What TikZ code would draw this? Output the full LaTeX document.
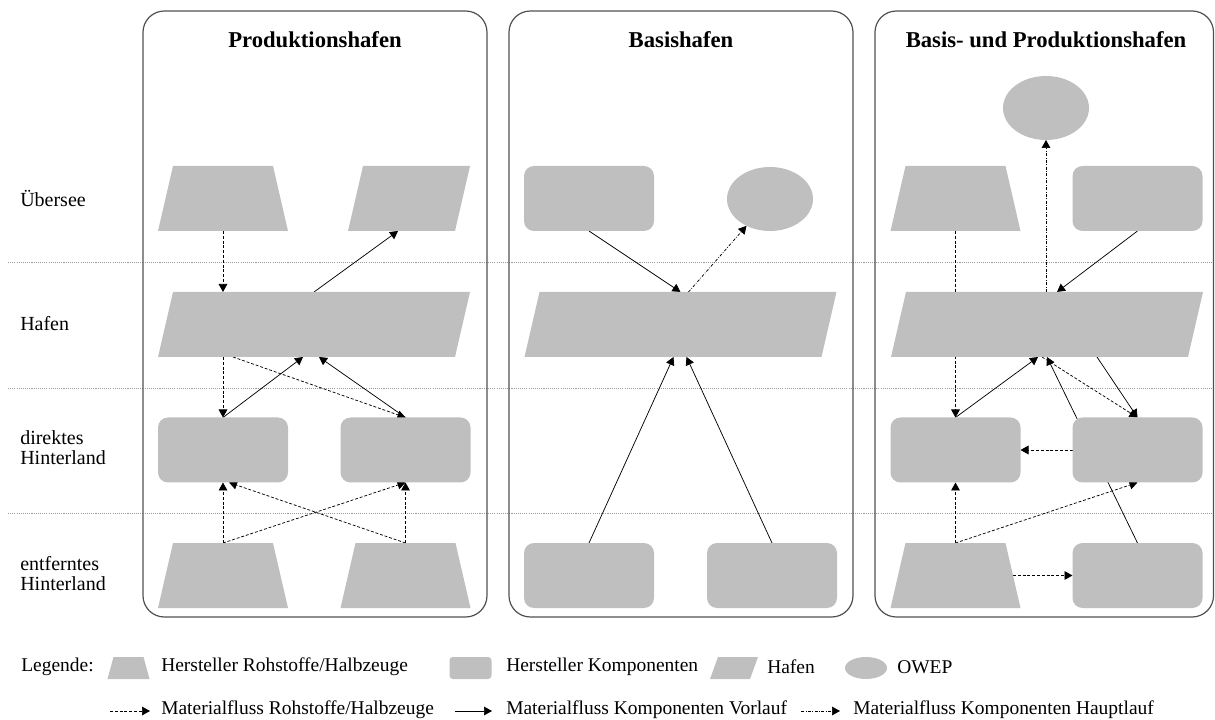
\documentclass[tikz,border=0pt]{standalone}
\usepackage{fontspec}
\setmainfont{Liberation Serif}
\usetikzlibrary{shapes.geometric,arrows.meta,calc}
\definecolor{shapegray}{HTML}{BFBFBF}
\definecolor{framegray}{HTML}{505050}
\definecolor{gridgray}{HTML}{9A9A9A}
\pgfdeclarelayer{bg}
\pgfsetlayers{bg,main}
% grey fills of the slanted shapes, drawn over the (invisible) anchor node
\newcommand\rawfill[2][11.25pt]{\fill[shapegray] ([xshift=#1]#2.north west)
  -- ([xshift=-#1]#2.north east) -- (#2.south east) -- (#2.south west) -- cycle;}
\newcommand\portfill[2][11.25pt]{\fill[shapegray] ([xshift=#1]#2.north west)
  -- (#2.north east) -- ([xshift=-#1]#2.south east) -- (#2.south west) -- cycle;}
\tikzset{
  raw/.style={rectangle, minimum width=97.5pt, minimum height=48.75pt,
    inner sep=0pt, outer sep=0pt},
  port/.style={rectangle, minimum height=48.75pt, inner sep=0pt, outer sep=0pt},
  comp/.style={rectangle, rounded corners=7.5pt, minimum width=97.5pt,
    minimum height=48.75pt, inner sep=0pt, outer sep=0pt, fill=shapegray},
  owep/.style={ellipse, minimum width=64.5pt, minimum height=48pt,
    inner sep=0pt, outer sep=0pt, fill=shapegray},
  panel/.style={draw=framegray, line width=0.9pt, rounded corners=16pt,
    inner sep=0pt, minimum height=454.5pt},
  title/.style={font=\bfseries\fontsize{17}{20}\selectfont},
  rowlabel/.style={anchor=west, align=left, inner sep=0pt,
    font=\fontsize{15}{15}\selectfont},
  legtext/.style={anchor=west, inner sep=0pt, font=\fontsize{14.6}{16}\selectfont},
  tip/.style={-{Triangle[length=6pt,width=6.5pt]}},
  raw flow/.style={tip, line width=0.55pt, dash pattern=on 2.2pt off 1.4pt},
  pre flow/.style={tip, line width=0.55pt},
  main flow/.style={tip, line width=0.55pt,
    dash pattern=on 2.2pt off 1.2pt on 0.5pt off 1.2pt},
  level/.style={draw=gridgray, line width=0.6pt, dash pattern=on 0.8pt off 0.8pt},
}
\begin{document}
\begin{tikzpicture}[x=0.75pt, y=-0.75pt]
\useasboundingbox (0,0) rectangle (1215,720);

% three panels with titles
\node[panel, minimum width=258pt] (pA) at (315,314) {};
\node[panel, minimum width=258pt] (pB) at (681,314) {};
\node[panel, minimum width=253.9pt] (pC) at (1044.25,314) {};
\node[title] (tA) at (315,40) {Produktionshafen};
\node[title] (tB) at (681,40) {Basishafen};
\node[title] (tC) at (1046,40) {Basis- und Produktionshafen};

% row labels
\node[rowlabel] (lvl1) at (20,198) {Übersee};
\node[rowlabel] (lvl2) at (20,324) {Hafen};
\node[rowlabel] (lvl3) at (20,448) {direktes\\Hinterland};
\node[rowlabel] (lvl4) at (20,574) {entferntes\\Hinterland};

% Produktionshafen
\node[raw] (R1) at (223,198.5) {};        \rawfill{R1}
\node[port, minimum width=91.5pt] (P1) at (409,198.5) {};  \portfill{P1}
\node[port, minimum width=234pt] (H1) at (314,324.5) {};   \portfill{H1}
\node[comp] (K1) at (223,450) {};
\node[comp] (K2) at (405.5,450) {};
\node[raw] (R2) at (223,575.5) {};        \rawfill{R2}
\node[raw] (R3) at (405.5,575.5) {};      \rawfill{R3}

% Basishafen
\node[comp] (K3) at (589,198.5) {};
\node[owep] (E1) at (770,199) {};
\node[port, minimum width=234pt] (H2) at (680.5,324.5) {}; \portfill{H2}
\node[comp] (K4) at (589,575.5) {};
\node[comp] (K5) at (772,575.5) {};

% Basis- und Produktionshafen
\node[owep] (E2) at (1046,108) {};
\node[raw] (R4) at (955.5,198.5) {};      \rawfill{R4}
\node[comp] (K7) at (1137.5,198.5) {};
\node[port, minimum width=234pt] (H3) at (1047,324.5) {};  \portfill{H3}
\node[comp] (K6) at (955.5,450) {};
\node[comp] (K8) at (1137.5,450) {};
\node[raw] (R5) at (955.5,575.5) {};      \rawfill{R5}
\node[comp] (K9) at (1137.5,575.5) {};

% legend
\node[legtext] (legend) at (21,667) {Legende:};
\node[raw, minimum width=31.5pt, minimum height=16.5pt] (lR) at (128.5,668) {};
\rawfill[4.5pt]{lR}
\node[legtext] (lRt) at (161,667) {Hersteller Rohstoffe/Halbzeuge};
\node[comp, minimum width=31.5pt, minimum height=16.5pt,
  rounded corners=2.5pt] (lK) at (470.5,668) {};
\node[legtext] (lKt) at (506,667) {Hersteller Komponenten};
\node[port, minimum width=36pt, minimum height=16.5pt] (lH) at (734,668) {};
\portfill[6pt]{lH}
\node[legtext] (lHt) at (767,667) {Hafen};
\node[owep, minimum width=31.5pt, minimum height=16.5pt] (lE) at (866,668) {};
\node[legtext] (lEt) at (897,667) {OWEP};

\coordinate (f1s) at (110,711); \coordinate (f1e) at (150,711);
\coordinate (f2s) at (455,711); \coordinate (f2e) at (492,711);
\coordinate (f3s) at (801,711); \coordinate (f3e) at (840,711);
\node[legtext] (f1t) at (161,710) {Materialfluss Rohstoffe/Halbzeuge};
\node[legtext] (f2t) at (506,710) {Materialfluss Komponenten Vorlauf};
\node[legtext] (f3t) at (853,710) {Materialfluss Komponenten Hauptlauf};

\begin{pgfonlayer}{bg}
  % level separators
  \draw[level] (8,262) -- (1215,262);
  \draw[level] (8,388) -- (1215,388);
  \draw[level] (8,513) -- (1215,513);

  % Produktionshafen flows
  \draw[raw flow] (R1.south) -- (R1.south |- H1.north);
  \draw[pre flow] (H1.north) -- ($(P1.south)+(-11,0)$);
  \draw[raw flow] (K1.north |- H1.south) -- (K1.north);
  \draw[pre flow] (K1.north) -- ($(H1.south)+(-11,0)$);
  \draw[raw flow] ($(K1.north |- H1.south)+(10,0)$) -- (K2.north);
  \draw[pre flow] (K2.north) -- ($(H1.south)+(5,0)$);
  \draw[raw flow] (R2.north) -- (K1.south);
  \draw[raw flow] (R2.north) -- (K2.south);
  \draw[raw flow] (R3.north) -- (K2.south);
  \draw[raw flow] (R3.north) -- ($(K1.south)+(6,0)$);

  % Basishafen flows
  \draw[pre flow] (K3.south) -- (H2.north);
  \draw[main flow] ($(H2.north)+(8,0)$) -- (E1);
  \draw[pre flow] (K4.north) -- ($(H2.south)+(-7,0)$);
  \draw[pre flow] (K5.north) -- ($(H2.south)+(6,0)$);

  % Basis- und Produktionshafen flows
  \draw[raw flow] (R4.south) -- (K6.north);
  \draw[main flow] (E2.south |- H3.north) -- (E2.south);
  \draw[pre flow] (K7.south) -- ($(H3.north)+(10,0)$);
  \draw[pre flow] (K6.north) -- ($(H3.south)+(-9,0)$);
  \draw[raw flow] ($(H3.south)+(-5,0)$) -- (K8.north);
  \draw[pre flow] ($(H3.south)+(50,0)$) -- (K8.north);
  \draw[pre flow] (K9.north) -- (H3.south);
  \draw[raw flow] (K8.west) -- (K6.east);
  \draw[raw flow] (R5.north) -- (K6.south);
  \draw[raw flow] (R5.north) -- (K8.south);
  \draw[raw flow] ($(R5.east)+(-7.5,0)$) -- (K9.west);

  % legend arrows
  \draw[raw flow] (f1s) -- (f1e);
  \draw[pre flow] (f2s) -- (f2e);
  \draw[main flow] (f3s) -- (f3e);
\end{pgfonlayer}
\end{tikzpicture}
\end{document}
